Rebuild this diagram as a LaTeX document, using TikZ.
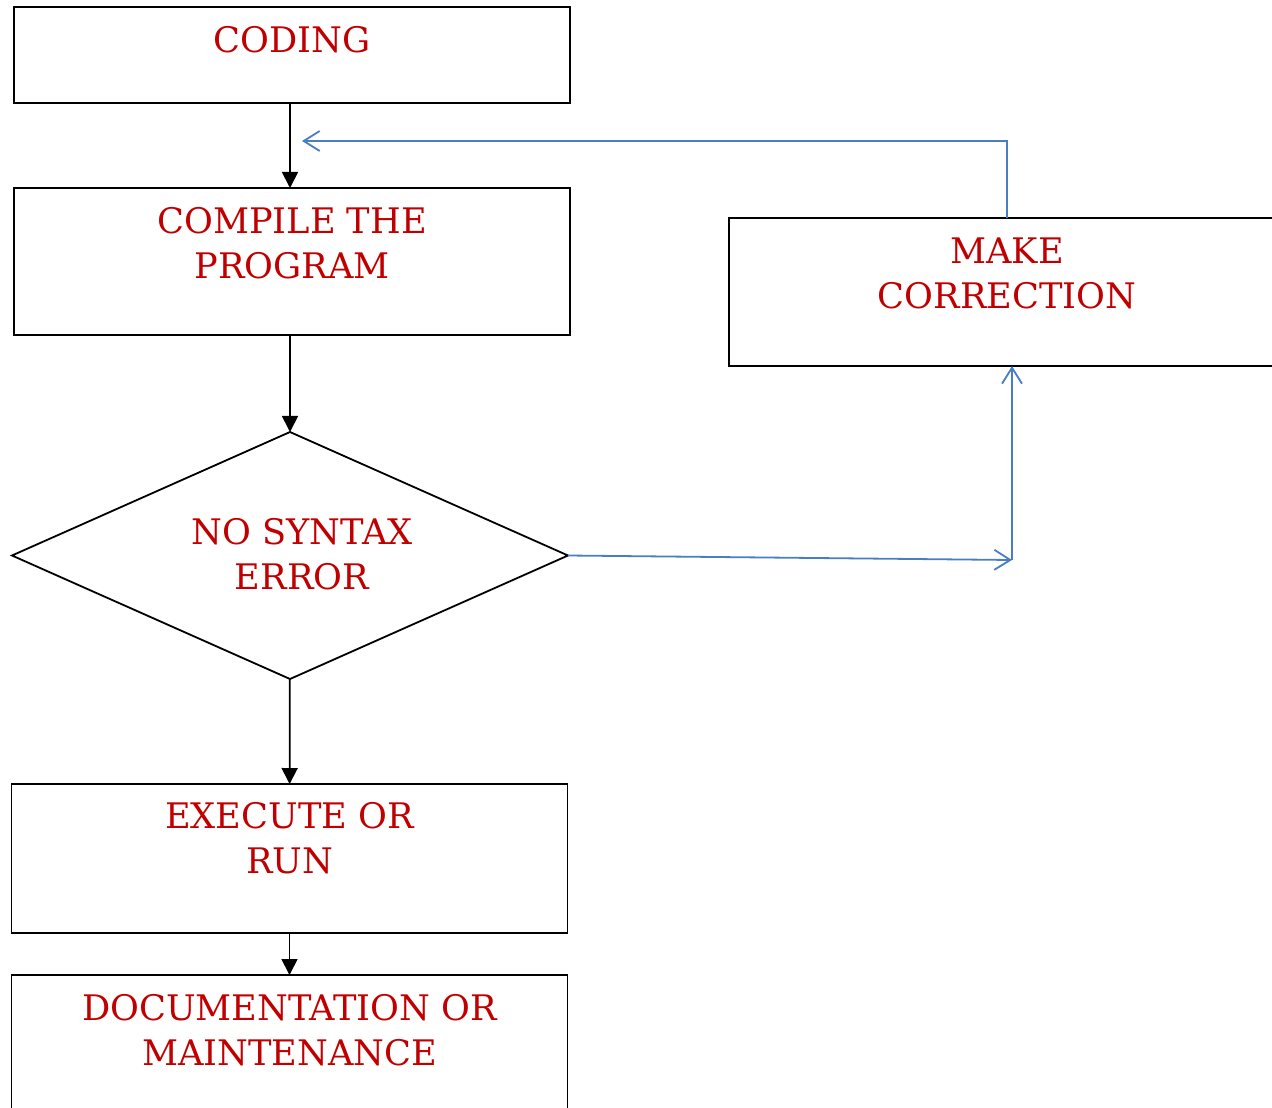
\documentclass[tikz,border=0pt]{standalone}
\usepackage{fontspec}
\setmainfont{DejaVu Serif}
\usetikzlibrary{arrows.meta}
\usetikzlibrary{shapes.geometric}
\definecolor{txtred}{HTML}{C00000}
\definecolor{lineblue}{HTML}{4A7EC2}
\tikzset{
  box/.style={draw, line width=0.9pt, minimum width=278pt, inner sep=0pt, outer sep=0pt},
  lbl/.style={text=txtred, align=center, font=\fontsize{17.6}{22.5}\selectfont, inner sep=0pt},
  flow/.style={line width=0.9pt, -{Triangle[length=8pt,width=8pt]}},
  back/.style={draw=lineblue, line width=0.9pt, -{Straight Barb[length=8pt,width=10pt]}}
}

\begin{document}
\begin{tikzpicture}[x=0.5pt, y=-0.5pt]
        \useasboundingbox (0,0) rectangle (1272,1107);
        \clip (0,0) rectangle (1272,1107);
        \node[box, minimum height=48pt] (coding) at (292, 55) {};
        \node[box, minimum height=73.5pt] (compile) at (292, 261.5) {};
        \node[box, minimum height=74pt] (correct) at (1007, 292) {};
        \node[box, diamond, minimum width=278pt, minimum height=123.5pt] (check) at (290, 555.5) {};
        \node[box, minimum height=74.5pt] (run) at (289.5, 858.5) {};
        \node[box, minimum height=74.5pt] (doc) at (289.5, 1049.5) {};
        % texts
        \node[lbl] (coding-t) at (292, 40) {CODING};
        \node[lbl] (compile-t) at (292, 243.5) {COMPILE THE\\PROGRAM};
        \node[lbl] (correct-t) at (1007, 273) {MAKE\\CORRECTION};
        \node[lbl] (check-t) at (302, 554) {NO SYNTAX\\ERROR};
        \node[lbl] (run-t) at (289.5, 838.5) {EXECUTE OR\\RUN};
        \node[lbl] (doc-t) at (289.5, 1030.5) {DOCUMENTATION OR\\MAINTENANCE};
        % main flow
        \draw (coding.south -| check) edge[flow] (compile.north -| check);
        \draw (compile.south -| check) edge[flow] (check);
        \draw (check) edge[flow] (run);
        \draw (run) edge[flow] (doc);
        % correction loop
        \coordinate (bend) at (1012, 560);
        \coordinate (retn) at (302, 141);
        \draw[back] (check.east) -- (bend);
        \draw[back] (bend) -- (bend |- correct.south);
        \draw[back] (correct.north) |- (retn);
\end{tikzpicture}
\end{document}
